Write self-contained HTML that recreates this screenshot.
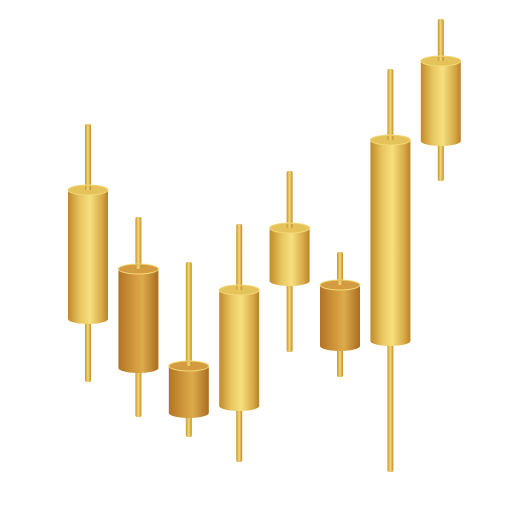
<!DOCTYPE html>
<html><head><meta charset="utf-8"><style>
html,body{margin:0;padding:0;background:#fff;}
svg{display:block;}
</style></head><body>
<svg id="chart" width="525" height="525" viewBox="0 0 525 525" xmlns="http://www.w3.org/2000/svg">
<defs>
<linearGradient id="gLight" x1="0" x2="1" y1="0" y2="0">
<stop offset="0" stop-color="#c08a2a"/><stop offset="0.3" stop-color="#e8c660"/><stop offset="0.55" stop-color="#f6e07e"/><stop offset="0.85" stop-color="#d7a846"/><stop offset="1" stop-color="#b98226"/>
</linearGradient>
<linearGradient id="gDark" x1="0" x2="1" y1="0" y2="0">
<stop offset="0" stop-color="#b07424"/><stop offset="0.35" stop-color="#cf953a"/><stop offset="0.6" stop-color="#dcab4c"/><stop offset="1" stop-color="#a96d20"/>
</linearGradient>
<linearGradient id="gWick" x1="0" x2="1" y1="0" y2="0">
<stop offset="0" stop-color="#c8942e"/><stop offset="0.5" stop-color="#f4d874"/><stop offset="1" stop-color="#c08a2a"/>
</linearGradient>
</defs>
<g id="candles"></g>
</svg>
<script>
// data values (height units, 0 = bottom of chart, 525 = top)
const categories = ["c1","c2","c3","c4","c5","c6","c7","c8"];
const highs  = [401, 308, 263, 301, 354, 273, 456, 506];
const lows   = [143, 108,  88,  63, 173, 148,  53, 344];
const bodyTops    = [335, 256, 159, 235, 297, 240, 385, 464];
const bodyBottoms = [206, 157, 112, 119, 244, 179, 184, 384];
const tones = ["light","dark","dark","light","light","dark","light","light"];

const W = 525, H = 525;
const xScale = i => 88 + i * 50.4;
const yScale = v => H - v;
const NS = "http://www.w3.org/2000/svg";
const g = document.getElementById("candles");
const bw = 40, ww = 6, ry = 5;

categories.forEach((c, i) => {
  const x = xScale(i);
  const grp = document.createElementNS(NS, "g");
  
  
  const wick = document.createElementNS(NS, "rect");
  
  
  wick.setAttribute("x", x - ww / 2);
  wick.setAttribute("y", yScale(highs[i]));
  wick.setAttribute("width", ww);
  wick.setAttribute("height", yScale(lows[i]) - yScale(highs[i]));
  wick.setAttribute("rx", 2);
  wick.setAttribute("fill", "url(#gWick)");
  grp.appendChild(wick);
  const fill = tones[i] === "light" ? "url(#gLight)" : "url(#gDark)";
  const top = yScale(bodyTops[i]), bot = yScale(bodyBottoms[i]);
  const body = document.createElementNS(NS, "path");
  
  
  body.setAttribute("d", `M${x-bw/2},${top} L${x-bw/2},${bot} A${bw/2},${ry} 0 0 0 ${x+bw/2},${bot} L${x+bw/2},${top} Z`);
  body.setAttribute("fill", fill);
  grp.appendChild(body);
  const cap = document.createElementNS(NS, "ellipse");
  
  
  cap.setAttribute("cx", x);
  cap.setAttribute("cy", top);
  cap.setAttribute("rx", bw / 2);
  cap.setAttribute("ry", ry);
  cap.setAttribute("fill", tones[i] === "light" ? "#e6c25a" : "#d39c40");
  cap.setAttribute("stroke", "#f3d877");
  cap.setAttribute("stroke-width", "1");
  grp.appendChild(cap);
  const stub = document.createElementNS(NS, "rect");
  
  
  stub.setAttribute("x", x - ww / 2);
  stub.setAttribute("y", top - 4);
  stub.setAttribute("width", ww);
  stub.setAttribute("height", 4);
  stub.setAttribute("fill", "url(#gWick)");
  grp.appendChild(stub);
  g.appendChild(grp);
});
</script>
</body></html>
